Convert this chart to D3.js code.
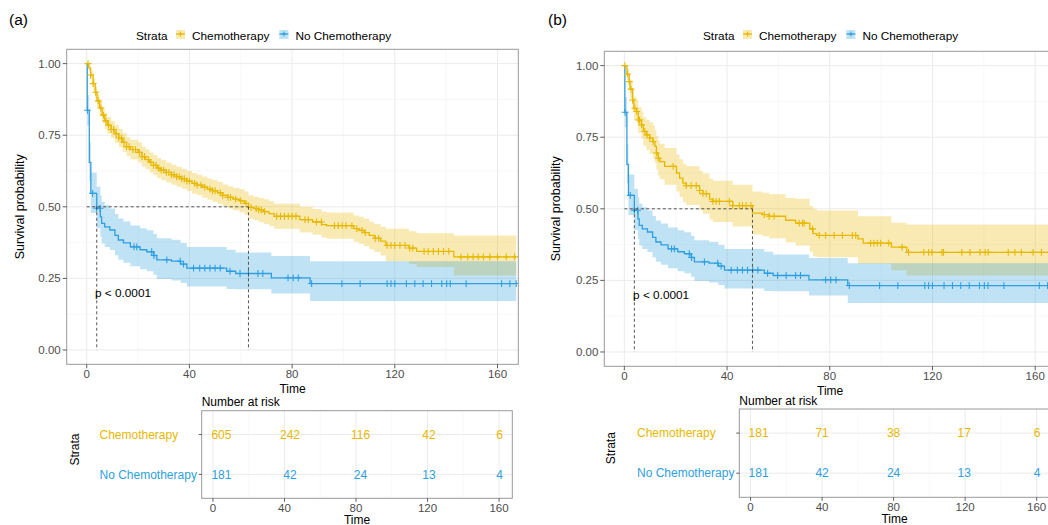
<!DOCTYPE html>
<html><head><meta charset="utf-8">
<script src="https://cdn.jsdelivr.net/npm/d3@7"></script>
<style>body{margin:0;background:#fff} svg{display:block} text{font-family:"Liberation Sans",Arial,sans-serif}</style>
</head><body><svg id="c" width="1048" height="525"></svg>
<script>
const strata = ["Chemotherapy", "No Chemotherapy"];
const colors = ["#E7B800", "#2E9FDF"];
const xTicks = [0, 40, 80, 120, 160];
const xMinor = [20, 60, 100, 140];
const yTicks = [0, 0.25, 0.5, 0.75, 1];
const yTickLabels = ["0.00", "0.25", "0.50", "0.75", "1.00"];
const yMinor = [0.125, 0.375, 0.625, 0.875];
const endTime = 167.3;
const pText = "p < 0.0001";

// step data: [time, survival, lower, upper]
const chemoA = [
  [0,1,1,1],[0.8,0.985,0.975,0.995],[1.5,0.96,0.945,0.975],[2.5,0.93,0.91,0.95],[3.3,0.90,0.878,0.922],
  [4,0.87,0.846,0.894],[5,0.845,0.82,0.87],[6,0.82,0.793,0.847],[7,0.80,0.772,0.828],[8,0.785,0.756,0.814],
  [9.5,0.77,0.74,0.80],[11,0.755,0.724,0.786],[12.5,0.74,0.708,0.772],[14,0.725,0.692,0.758],[15.5,0.71,0.677,0.743],
  [17,0.70,0.666,0.734],[20,0.69,0.655,0.725],[21.5,0.675,0.64,0.71],[23,0.665,0.63,0.70],[24.5,0.655,0.62,0.69],
  [26,0.645,0.61,0.68],[27.5,0.635,0.60,0.67],[29,0.628,0.593,0.663],[31,0.62,0.585,0.655],[33,0.612,0.577,0.647],
  [35,0.605,0.57,0.64],[37,0.598,0.563,0.633],[39,0.59,0.555,0.625],[41,0.582,0.546,0.618],[43,0.576,0.54,0.612],
  [45,0.569,0.532,0.606],[47,0.562,0.525,0.599],[49,0.556,0.518,0.594],[51,0.549,0.511,0.587],[53,0.54,0.502,0.578],
  [55,0.533,0.494,0.572],[57,0.527,0.488,0.566],[59.5,0.521,0.481,0.561],[61.5,0.512,0.471,0.553],[63,0.498,0.458,0.54],
  [65,0.494,0.453,0.535],[67,0.489,0.447,0.531],[69,0.483,0.44,0.526],[71,0.476,0.433,0.519],[73,0.467,0.423,0.511],
  [83,0.455,0.41,0.50],[88,0.447,0.402,0.492],[91.5,0.438,0.393,0.483],[93.5,0.434,0.388,0.48],[104,0.424,0.378,0.47],
  [106,0.418,0.371,0.465],[108,0.41,0.362,0.458],[110,0.40,0.352,0.448],[112,0.39,0.342,0.44],[114.5,0.38,0.33,0.43],
  [116.5,0.365,0.31,0.423],[125.5,0.356,0.30,0.415],[128.5,0.344,0.29,0.408],[143,0.325,0.26,0.40]
];
const noChemo = [
  [0,1,1,1],[0.2,0.837,0.785,0.89],[1.0,0.655,0.59,0.725],[1.6,0.547,0.478,0.62],[3.9,0.495,0.425,0.57],
  [5.3,0.465,0.395,0.54],[5.8,0.442,0.372,0.518],[7,0.43,0.36,0.505],[9,0.419,0.349,0.494],[11,0.40,0.331,0.475],
  [12.3,0.384,0.315,0.459],[14.3,0.374,0.305,0.449],[17,0.36,0.292,0.435],[20.8,0.35,0.282,0.425],[23.4,0.343,0.275,0.418],
  [26,0.33,0.263,0.405],[27.3,0.315,0.248,0.39],[33,0.31,0.243,0.385],[36.6,0.30,0.234,0.374],[39,0.286,0.222,0.36],
  [54.5,0.275,0.213,0.35],[58,0.267,0.212,0.34],[71.9,0.252,0.197,0.328],[87,0.232,0.171,0.31]
];
const chemoB = [
  [0,1,1,1],[1.0,0.97,0.95,0.99],[1.9,0.944,0.915,0.973],[2.2,0.918,0.885,0.951],[3.2,0.88,0.843,0.917],
  [3.7,0.851,0.81,0.892],[4.8,0.84,0.798,0.882],[5.4,0.81,0.765,0.855],[6.7,0.793,0.745,0.841],[7.4,0.77,0.72,0.82],
  [8.6,0.758,0.705,0.811],[9.9,0.747,0.692,0.802],[11.2,0.735,0.678,0.792],[11.9,0.718,0.66,0.776],[12.5,0.695,0.636,0.754],
  [13.2,0.677,0.616,0.738],[13.8,0.665,0.603,0.727],[15.7,0.648,0.584,0.712],[20.3,0.625,0.56,0.69],[21.5,0.607,0.541,0.673],
  [22.8,0.59,0.523,0.657],[24.1,0.581,0.513,0.649],[29.3,0.564,0.495,0.633],[30.6,0.553,0.483,0.623],[33.2,0.534,0.463,0.605],
  [34.5,0.526,0.454,0.598],[42.2,0.511,0.438,0.584],[49.9,0.485,0.41,0.56],[53.8,0.48,0.404,0.556],[56.4,0.474,0.397,0.551],
  [62.8,0.46,0.382,0.538],[66.7,0.45,0.372,0.535],[72.2,0.43,0.35,0.51],[73.5,0.413,0.333,0.50],[75,0.407,0.331,0.494],
  [91,0.395,0.308,0.474],[93,0.38,0.308,0.474],[104,0.366,0.285,0.451],[110,0.348,0.267,0.445]
];
const censorChemoA = [0.5,1.5,2.5,3.5,4.5,5.5,6.5,7.5,8.5,9.5,10.5,11.5,12.5,13.5,14.5,15.5,16.5,18,19,20.5,21.5,22.5,
  24,25,26,27,28,29,30,31,32,33,34,35,36,37,38,39,40,42,43,44.5,46,48,49,50,52,53,55,56,58,60,62,64,66,67,68,69.3,
  74,75.5,77,78.5,80,81.5,85,86.3,89.5,91.4,96.5,98,99.5,101,103.3,105.2,107.2,108.5,112.4,113.7,117,118.5,120,122,124,
  125.8,127,131.4,133,135,137,139,141,145.8,148.4,150.5,152.5,154.5,157,160,163.4,166.7];
const censorNoChemo = [0.3,2.3,3.9,5.2,18.4,19.5,25.3,26.2,31.2,36.4,37.7,41.6,44,46,48,50,52,55.8,59.7,63,66.7,68.6,
  78.4,80.4,82.4,87.6,99.4,106.5,117,118.5,120,124.5,127.8,131,134.3,138.3,140.2,141.6,147.8,161.6,164.8,167.3];
const censorChemoB = [0.2,1.2,1.9,2.6,3.2,4.1,4.8,5.6,6,6.7,8,8.8,9.9,11.2,12.5,13.2,19,24.1,26,28,29.3,30.6,31.9,34.5,35.7,37,
  40.9,42.2,44.8,46,47.4,49.3,54.5,56.4,58.3,68.1,69.4,70,73.3,75.9,78.4,81.7,84.9,88.8,90.1,95.9,97.2,98.5,99.8,103,108.2,
  110.7,116.6,118.5,119.8,123.7,124.3,131.4,134.6,138.5,140.5,141.7,149.5,152.1,154.6,159.2,162.4,166];
const riskChemoA = [605, 242, 116, 42, 6];
const riskChemoB = [181, 71, 38, 17, 6];
const riskNoChemo = [181, 42, 24, 13, 4];

const panels = [
  {label:"(a)", lx:9, series:[chemoA, noChemo], censors:[censorChemoA, censorNoChemo], risk:[riskChemoA, riskNoChemo],
   plot:{x0:66.7, x1:518.3, y0:49.3, y1:364.3}, risk_box:{x0:201.7, x1:512.3, y0:410.7, y1:498.3},
   legendX:136, ytitleX:20, stitleX:74, strataX:99.5, nudge:[8.5,5.5,4.5,1.5,0.5]},
  {label:"(b)", lx:548, series:[chemoB, noChemo], censors:[censorChemoB, censorNoChemo], risk:[riskChemoB, riskNoChemo],
   plot:{x0:604.3, x1:1056, y0:51.3, y1:366.3}, risk_box:{x0:739.3, x1:1049.9, y0:409, y1:497.3},
   legendX:703, ytitleX:556, stitleX:610, strataX:637, nudge:[8,0,0,-1,0.5]}
];

const svg = d3.select("#c");
const tickCol = "#4d4d4d", gridMajor = "#ebebeb", gridMinor = "#f4f4f4", border = "#999";

function stepAt(data, t) {
  let s = data[0][1];
  for (const d of data) { if (d[0] <= t) s = d[1]; else break; }
  return s;
}
function median(data) { const d = data.find(r => r[1] <= 0.5); return d ? d[0] : null; }

panels.forEach((P, pi) => {
  const g = svg.append("g");
  const p = P.plot;
  const x = d3.scaleLinear().domain([-7.8, 168.1]).range([p.x0, p.x1]);
  const y = d3.scaleLinear().domain([-0.05, 1.05]).range([p.y1, p.y0]);
  const clipId = "clip" + pi;
  g.append("clipPath").attr("id", clipId).append("rect")
    .attr("x", p.x0).attr("y", p.y0).attr("width", p.x1 - p.x0).attr("height", p.y1 - p.y0);

  g.append("text").attr("x", P.lx).attr("y", 25).attr("font-size", 15.5).text(P.label);

  const lg = g.append("g").attr("transform", `translate(${P.legendX},0)`);
  lg.append("text").attr("x", 0).attr("y", 39.5).attr("font-size", 11.8).text("Strata");
  let lx = 40;
  strata.forEach((s, i) => {
    lg.append("rect").attr("x", lx).attr("y", 30).attr("width", 9).attr("height", 9).attr("fill", colors[i]).attr("fill-opacity", 0.3);
    lg.append("line").attr("x1", lx).attr("x2", lx + 9).attr("y1", 34).attr("y2", 34).attr("stroke", colors[i]).attr("stroke-width", 1.2);
    lg.append("path").attr("d", `M${lx+2},34h5M${lx+4.5},31.5v5`).attr("stroke", colors[i]).attr("stroke-width", 1);
    const tx = lg.append("text").attr("x", lx + 16).attr("y", 39.5).attr("font-size", 11.8).text(s);
    lx += 16 + tx.node().getComputedTextLength() + 10;
  });

  const grid = g.append("g");
  yMinor.forEach(v => grid.append("line").attr("x1", p.x0).attr("x2", p.x1).attr("y1", y(v)).attr("y2", y(v)).attr("stroke", gridMinor).attr("stroke-width", 0.6));
  xMinor.forEach(v => grid.append("line").attr("y1", p.y0).attr("y2", p.y1).attr("x1", x(v)).attr("x2", x(v)).attr("stroke", gridMinor).attr("stroke-width", 0.6));
  yTicks.forEach(v => grid.append("line").attr("x1", p.x0).attr("x2", p.x1).attr("y1", y(v)).attr("y2", y(v)).attr("stroke", gridMajor).attr("stroke-width", 1));
  xTicks.forEach(v => grid.append("line").attr("y1", p.y0).attr("y2", p.y1).attr("x1", x(v)).attr("x2", x(v)).attr("stroke", gridMajor).attr("stroke-width", 1));

  const plotG = g.append("g").attr("clip-path", `url(#${clipId})`);
  P.series.forEach((data, i) => {
    const pts = data.concat([[endTime, data[data.length-1][1], data[data.length-1][2], data[data.length-1][3]]]);
    plotG.append("path").datum(pts)
      .attr("d", d3.area().curve(d3.curveStepAfter).x(d => x(d[0])).y0(d => y(d[2])).y1(d => y(d[3])))
      .attr("fill", colors[i]).attr("fill-opacity", 0.3);
  });
  P.series.forEach((data, i) => {
    const pts = data.concat([[endTime, data[data.length-1][1]]]);
    plotG.append("path").datum(pts)
      .attr("d", d3.line().curve(d3.curveStepAfter).x(d => x(d[0])).y(d => y(d[1])))
      .attr("fill", "none").attr("stroke", colors[i]).attr("stroke-width", 1.3);
  });
  P.censors.forEach((cs, i) => {
    const path = cs.map(t => { const cx = x(t), cy = y(stepAt(P.series[i], t)); return `M${cx-3.4},${cy}h6.8M${cx},${cy-3.4}v6.8`; }).join("");
    plotG.append("path").attr("d", path).attr("stroke", colors[i]).attr("stroke-width", 1.1).attr("fill", "none");
  });
  const meds = P.series.map(median);
  const mx = d3.max(meds);
  const dash = g.append("g").attr("stroke", "#444").attr("stroke-width", 0.9).attr("stroke-dasharray", "3,2.5").attr("fill", "none");
  dash.append("line").attr("x1", x(0)).attr("x2", x(mx)).attr("y1", y(0.5)).attr("y2", y(0.5));
  meds.forEach(m => dash.append("line").attr("x1", x(m)).attr("x2", x(m)).attr("y1", y(0.5)).attr("y2", y(0)));

  g.append("text").attr("x", x(pi === 0 ? 3.2 : 3.4)).attr("y", y(0.2) + 4.5).attr("font-size", 11.8).text(pText);

  g.append("rect").attr("x", p.x0).attr("y", p.y0).attr("width", p.x1 - p.x0).attr("height", p.y1 - p.y0)
    .attr("fill", "none").attr("stroke", border).attr("stroke-width", 1);

  yTicks.forEach((v, k) => {
    g.append("line").attr("x1", p.x0 - 4).attr("x2", p.x0).attr("y1", y(v)).attr("y2", y(v)).attr("stroke", "#333").attr("stroke-width", 0.8);
    g.append("text").attr("x", p.x0 - 6).attr("y", y(v) + 4).attr("text-anchor", "end").attr("font-size", 11.5).attr("fill", tickCol).text(yTickLabels[k]);
  });
  xTicks.forEach(v => {
    g.append("line").attr("x1", x(v)).attr("x2", x(v)).attr("y1", p.y1).attr("y2", p.y1 + 4).attr("stroke", "#333").attr("stroke-width", 0.8);
    g.append("text").attr("x", x(v)).attr("y", p.y1 + 14).attr("text-anchor", "middle").attr("font-size", 11.5).attr("fill", tickCol).text(v);
  });
  g.append("text").attr("x", (p.x0 + p.x1) / 2).attr("y", p.y1 + 28.7).attr("text-anchor", "middle").attr("font-size", 12).text("Time");
  g.append("text").attr("transform", `translate(${P.ytitleX + 4},${(p.y0 + p.y1) / 2}) rotate(-90)`).attr("text-anchor", "middle").attr("font-size", 12.5).text("Survival probability");

  const r = P.risk_box;
  const xr = d3.scaleLinear().domain([-6.3, 167.4]).range([r.x0, r.x1]);
  const yr = d3.scalePoint().domain(strata).range([r.y0, r.y1]).padding(0.6);
  const rg = g.append("g");
  xMinor.forEach(v => rg.append("line").attr("x1", xr(v)).attr("x2", xr(v)).attr("y1", r.y0).attr("y2", r.y1).attr("stroke", gridMinor).attr("stroke-width", 0.6));
  xTicks.forEach(v => rg.append("line").attr("x1", xr(v)).attr("x2", xr(v)).attr("y1", r.y0).attr("y2", r.y1).attr("stroke", gridMajor).attr("stroke-width", 1));
  strata.forEach(s => rg.append("line").attr("x1", r.x0).attr("x2", r.x1).attr("y1", yr(s)).attr("y2", yr(s)).attr("stroke", gridMajor).attr("stroke-width", 1));
  rg.append("rect").attr("x", r.x0).attr("y", r.y0).attr("width", r.x1 - r.x0).attr("height", r.y1 - r.y0).attr("fill", "none").attr("stroke", border).attr("stroke-width", 1);
  strata.forEach((s, i) => {
    P.risk[i].forEach((n, k) => {
      rg.append("text").attr("x", xr(xTicks[k]) + P.nudge[k]).attr("y", yr(s) + 4.2).attr("text-anchor", "middle").attr("font-size", 12).attr("fill", colors[i]).text(n);
    });
    rg.append("line").attr("x1", r.x0 - 3).attr("x2", r.x0).attr("y1", yr(s)).attr("y2", yr(s)).attr("stroke", "#333").attr("stroke-width", 0.8);
    rg.append("text").attr("x", P.strataX).attr("y", yr(s) + 4.2).attr("font-size", 12).attr("fill", colors[i]).text(s);
  });
  xTicks.forEach(v => {
    rg.append("line").attr("x1", xr(v)).attr("x2", xr(v)).attr("y1", r.y1).attr("y2", r.y1 + 3.5).attr("stroke", "#333").attr("stroke-width", 0.8);
    rg.append("text").attr("x", xr(v)).attr("y", r.y1 + 13.5).attr("text-anchor", "middle").attr("font-size", 11.5).attr("fill", tickCol).text(v);
  });
  rg.append("text").attr("x", r.x0).attr("y", r.y0 - 4.3).attr("font-size", 12).text("Number at risk");
  rg.append("text").attr("x", (r.x0 + r.x1) / 2).attr("y", r.y1 + 25.5).attr("text-anchor", "middle").attr("font-size", 12).text("Time");
  rg.append("text").attr("transform", `translate(${P.stitleX + 4.5},${(r.y0 + r.y1) / 2 - 5}) rotate(-90)`).attr("text-anchor", "middle").attr("font-size", 12).text("Strata");
});
</script></body></html>
